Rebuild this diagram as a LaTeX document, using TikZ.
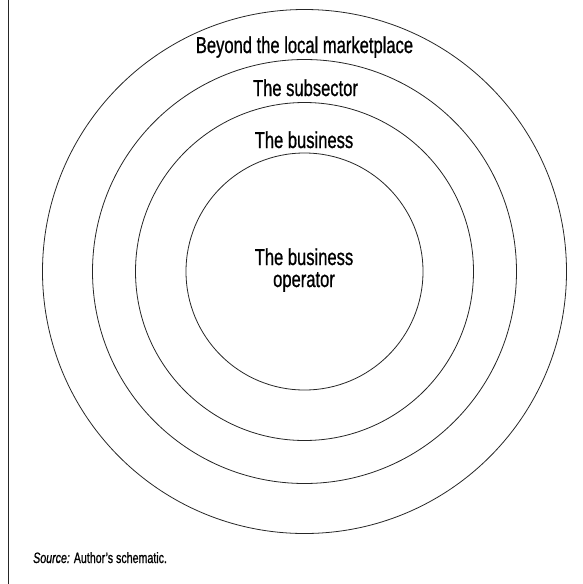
\documentclass[tikz,border=0pt]{standalone}
\usepackage{fontspec}
\setmainfont{Liberation Sans}[FakeBold=1]
\newcommand\cnd[1]{\scalebox{0.72}[1]{#1}}
\newcommand\cnds[1]{\scalebox{0.71}[1]{#1}}
\tikzset{
  ring/.style={draw=black!85, line width=0.8pt},
  lbl/.style={anchor=base, inner sep=0pt, font=\fontsize{23}{22}\selectfont},
}
\begin{document}
\begin{tikzpicture}[x=1pt,y=-1pt]
\useasboundingbox (0,0) rectangle (583,584);
\coordinate (c) at (304.5,271.5);
\coordinate (lt) at (8.5,0);
\coordinate (lb) at (8.5,584);
\draw[line width=1.3pt, black!85] (lt) -- (lb);
\draw[ring] (c) circle[radius=262];
\draw[ring] (c) circle[radius=212];
\draw[ring] (c) circle[radius=169];
\draw[ring] (c) circle[radius=118.5];
\node[lbl] (beyond) at (304.5,53) {\cnd{Beyond the local marketplace}};
\node[lbl] (sub) at (305.5,96) {\cnd{The subsector}};
\node[lbl] (bus) at (304,148) {\cnd{The business}};
\node[lbl] (op1) at (304,265) {\cnd{The business}};
\node[lbl] (op2) at (304,287) {\cnd{operator}};
\node[anchor=base west, inner sep=0pt, font=\fontsize{15}{15}\selectfont] (src) at (33,563) {\cnds{\textit{Source:} Author's schematic.}};
\end{tikzpicture}
\end{document}
